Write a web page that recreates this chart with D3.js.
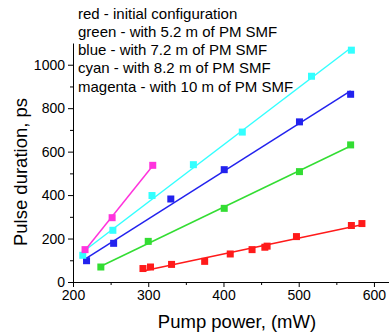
<!DOCTYPE html>
<html>
<head>
<meta charset="utf-8">
<script src="https://cdn.jsdelivr.net/npm/d3@7"></script>
<style>
  body { margin: 0; background: #fff; }
  svg text { font-family: "Liberation Sans", Arial, sans-serif; fill: #000; }
</style>
</head>
<body>
<svg class="chart"></svg>
<script>
// Chart setup
var W = 389, H = 335;
var margin = {top: 43, right: 0, bottom: 53, left: 73};
var width = W - margin.left - margin.right;
var height = H - margin.top - margin.bottom;

// Data
var seriesNames = ['red', 'green', 'blue', 'cyan', 'magenta'];
var seriesColors = ['#ff1a1a', '#33dd33', '#2222ee', '#33ffff', '#ff33dd'];
var legendLabels = [
  'red - initial configuration',
  'green - with 5.2 m of PM SMF',
  'blue - with 7.2 m of PM SMF',
  'cyan - with 8.2 m of PM SMF',
  'magenta - with 10 m of PM SMF'
];
var redX = [293, 303, 331, 375, 409, 438, 455, 458, 497, 570, 584];
var redY = [62, 69, 81, 95, 129, 149, 160, 165, 209, 260, 269];
var greenX = [237, 300, 401, 501, 569];
var greenY = [69, 187, 339, 508, 631];
var blueX = [218, 254, 330, 401, 501, 569];
var blueY = [98, 178, 382, 517, 737, 864];
var cyanX = [213, 253, 305, 360, 425, 517, 570];
var cyanY = [123, 238, 398, 540, 690, 947, 1067];
var magentaX = [216, 252, 306];
var magentaY = [149, 296, 537];
var xTicks = [200, 300, 400, 500, 600];
var yTicks = [0, 200, 400, 600, 800, 1000];

var seriesX = [redX, greenX, blueX, cyanX, magentaX];
var seriesY = [redY, greenY, blueY, cyanY, magentaY];

// Least squares fit of one series
function fit (xs, ys) {
  var mx = d3.mean(xs), my = d3.mean(ys);
  var sxy = d3.sum(xs, function (v, i) { return (v - mx) * (ys[i] - my); });
  var sxx = d3.sum(xs, function (v) { return (v - mx) * (v - mx); });
  var k = sxy / sxx;
  return function (v) { return my + k * (v - mx); };
}

var x = d3.scaleLinear().domain([200, 620]).range([0, width]);
var y = d3.scaleLinear().domain([0, 1100]).range([height, 0]);

var svg = d3.select('.chart').attr('width', W).attr('height', H);
var g = svg.append('g')
  .attr('transform', 'translate(' + margin.left + ',' + margin.top + ')');

// Axes with minor ticks
g.append('g')
  .attr('transform', 'translate(0,' + height + ')')
  .call(d3.axisBottom(x).tickValues(d3.range(250, 620, 100)).tickSize(3).tickFormat(''))
  .call(function (a) { a.select('.domain').remove(); });
g.append('g')
  .attr('transform', 'translate(0,' + height + ')')
  .call(d3.axisBottom(x).tickValues(xTicks).tickSize(5).tickSizeOuter(0).tickPadding(3).tickFormat(d3.format('d')))
  .call(function (a) { a.selectAll('text').style('font-size', '14px'); });

g.append('g')
  .call(d3.axisLeft(y).tickValues(d3.range(100, 1100, 200)).tickSize(3).tickFormat(''))
  .call(function (a) { a.select('.domain').remove(); });
g.append('g')
  .call(d3.axisLeft(y).tickValues(yTicks).tickSize(5).tickSizeOuter(0).tickPadding(3).tickFormat(d3.format('d')))
  .call(function (a) { a.selectAll('text').style('font-size', '14px'); });

g.selectAll('.domain, .tick line').attr('stroke', '#000').attr('stroke-width', 1);

// Fit lines and markers
seriesNames.forEach(function (name, s) {
  var xs = seriesX[s], ys = seriesY[s];
  var f = fit(xs, ys);
  var ext = d3.extent(xs);
  g.append('line')
    .attr('x1', x(ext[0])).attr('y1', y(f(ext[0])))
    .attr('x2', x(ext[1])).attr('y2', y(f(ext[1])))
    .attr('stroke', seriesColors[s])
    .attr('stroke-width', 1.5);
  g.selectAll('.pt-' + name)
    .data(xs)
    .enter()
    .append('rect')
    .attr('x', function (d) { return x(d) - 3.5; })
    .attr('y', function (d, i) { return y(ys[i]) - 3.5; })
    .attr('width', 7)
    .attr('height', 7)
    .attr('fill', seriesColors[s]);
});

// Legend text
svg.selectAll('.legend')
  .data(legendLabels)
  .enter()
  .append('text')
  .attr('x', 78)
  .attr('y', function (d, i) { return 18.5 + i * 18.3; })
  .style('font-size', '15px')
  .text(function (d) { return d; });

// Axis titles
svg.append('text')
  .attr('x', 237)
  .attr('y', 328)
  .attr('text-anchor', 'middle')
  .style('font-size', '18.5px')
  .text('Pump power, (mW)');

svg.append('text')
  .attr('transform', 'translate(27,172) rotate(-90)')
  .attr('text-anchor', 'middle')
  .style('font-size', '18.5px')
  .text('Pulse duration, ps');
</script>
</body>
</html>
